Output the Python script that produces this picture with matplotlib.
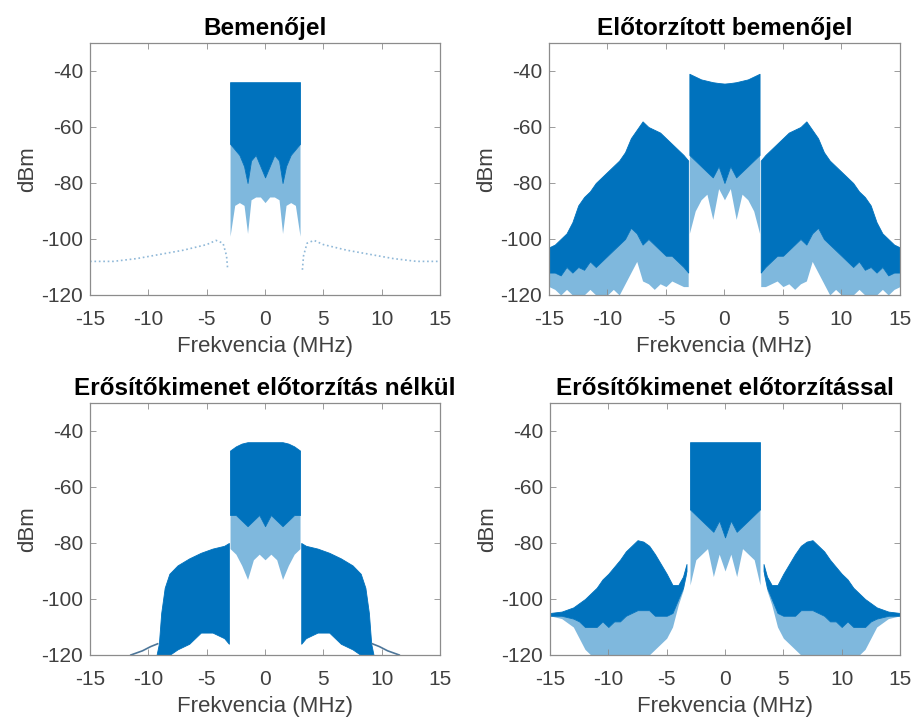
import matplotlib
matplotlib.use("Agg")
import matplotlib.pyplot as plt

plt.rcParams['font.family'] = ['Liberation Sans', 'DejaVu Sans']
plt.rcParams['axes.unicode_minus'] = False

BLUE = '#0072BD'

titles = ["Bemenőjel", "Előtorzított bemenőjel",
          "Erősítőkimenet előtorzítás nélkül", "Erősítőkimenet előtorzítással"]
x_ticks = [-15, -10, -5, 0, 5, 10, 15]
y_ticks = [-120, -100, -80, -60, -40]

# --- panel 1: input signal ---
p1_band_x = [-3.0, -2.6, -2.2, -1.8, -1.5, -1.2, -0.8, -0.4, 0.0, 0.4, 0.8, 1.2, 1.5, 1.8, 2.2, 2.6, 3.0]
p1_band_top = [-44, -44, -44, -44, -44, -44, -44, -44, -44, -44, -44, -44, -44, -44, -44, -44, -44]
p1_band_dense = [-66, -68, -70, -74, -80, -72, -70, -74, -78, -74, -70, -72, -80, -74, -70, -68, -66]
p1_band_light = [-99, -88, -87, -88, -98, -86, -85, -85, -87, -85, -85, -86, -98, -88, -87, -88, -99]
p1_floor_lx = [-15, -13, -11, -9, -7, -5, -4.2, -3.6, -3.3, -3.2]
p1_floor_ly = [-108, -108, -107, -105.5, -104, -102, -100.5, -101.5, -106, -111]
p1_floor_rx = [3.2, 3.3, 3.6, 4.2, 5, 7, 9, 11, 13, 15]
p1_floor_ry = [-111, -106, -101.5, -100.5, -102, -104, -105.5, -107, -108, -108]

# --- panel 2: predistorted input ---
p2_band_x = [-3.0, -2.5, -2.0, -1.5, -1.0, -0.5, 0.0, 0.5, 1.0, 1.5, 2.0, 2.5, 3.0]
p2_band_top = [-41, -42, -43, -43.5, -44, -44.3, -44.5, -44.3, -44, -43.5, -43, -42, -41]
p2_band_dense = [-70, -72, -74, -76, -78, -74, -80, -74, -78, -76, -74, -72, -70]
p2_band_light = [-98, -90, -86, -84, -93, -82, -86, -82, -93, -84, -86, -90, -98]
p2_left_x = [-15, -14.5, -14, -13.5, -13, -12.5, -12, -11.5, -11, -10.5, -10, -9.5, -9,
             -8.5, -8, -7.5, -7, -6.5, -6, -5.5, -5, -4.5, -4, -3.5, -3.1]
p2_left_top = [-103, -102, -100, -98, -94, -88, -85, -83, -80, -78, -76, -74, -72,
               -69, -64, -61, -58, -60, -61, -62, -64, -66, -68, -70, -72]
p2_left_dense = [-112, -112, -113, -110, -112, -110, -111, -108, -110, -108, -106, -104, -102,
                 -100, -96, -98, -102, -100, -102, -104, -106, -106, -108, -110, -112]
p2_left_light = [-117, -118, -120, -118, -120, -120, -120, -118, -120, -120, -120, -118, -120,
                 -116, -112, -108, -115, -116, -118, -116, -117, -115, -116, -117, -117]
p2_right_x = [3.1, 3.5, 4, 4.5, 5, 5.5, 6, 6.5, 7, 7.5, 8, 8.5, 9,
              9.5, 10, 10.5, 11, 11.5, 12, 12.5, 13, 13.5, 14, 14.5, 15]
p2_right_top = [-72, -70, -68, -66, -64, -62, -61, -60, -58, -61, -64, -69, -72,
                -74, -76, -78, -80, -83, -85, -88, -94, -98, -100, -102, -103]
p2_right_dense = [-112, -110, -108, -106, -106, -104, -102, -100, -102, -98, -96, -100, -102,
                  -104, -106, -108, -110, -108, -111, -110, -112, -110, -113, -112, -112]
p2_right_light = [-117, -117, -116, -115, -117, -116, -118, -116, -115, -108, -112, -116, -120,
                  -118, -120, -120, -120, -118, -120, -120, -120, -118, -120, -118, -117]

# --- panel 3: amplifier output without predistortion ---
p3_band_x = [-3.0, -2.5, -2.0, -1.5, -1.0, -0.5, 0.0, 0.5, 1.0, 1.5, 2.0, 2.5, 3.0]
p3_band_top = [-47, -45.5, -44.5, -44, -44, -44, -44, -44, -44, -44, -44.5, -45.5, -47]
p3_band_dense = [-70, -70, -72, -74, -72, -70, -74, -70, -72, -74, -72, -70, -70]
p3_band_light = [-82, -84, -88, -93, -86, -84, -86, -84, -86, -93, -88, -84, -82]
p3_left_x = [-9.3, -9.1, -8.9, -8.6, -8.2, -7.5, -6.5, -5.5, -4.5, -3.5, -3.1]
p3_left_top = [-120, -116, -105, -96, -91, -88, -85.5, -83.5, -82, -81, -80]
p3_left_dense = [-120, -120, -120, -120, -120, -118, -116, -112, -112, -114, -116]
p3_right_x = [3.1, 3.5, 4.5, 5.5, 6.5, 7.5, 8.2, 8.6, 8.9, 9.1, 9.3]
p3_right_top = [-80, -81, -82, -83.5, -85.5, -88, -91, -96, -105, -116, -120]
p3_right_dense = [-116, -114, -112, -112, -116, -118, -120, -120, -120, -120, -120]
p3_tail_lx = [-11.5, -10.5, -9.8, -9.2]
p3_tail_ly = [-120, -118.5, -117, -116]
p3_tail_rx = [9.2, 9.8, 10.5, 11.5]
p3_tail_ry = [-116, -117, -118.5, -120]

# --- panel 4: amplifier output with predistortion ---
p4_band_x = [-3.0, -2.5, -2.0, -1.5, -1.0, -0.5, 0.0, 0.5, 1.0, 1.5, 2.0, 2.5, 3.0]
p4_band_top = [-44, -44, -44, -44, -44, -44, -44, -44, -44, -44, -44, -44, -44]
p4_band_dense = [-68, -70, -72, -74, -76, -72, -78, -72, -76, -74, -72, -70, -68]
p4_band_light = [-95, -86, -84, -82, -92, -84, -90, -84, -92, -82, -84, -86, -95]
p4_left_x = [-15, -14, -13, -12.5, -12, -11.5, -11, -10.5, -10, -9.5, -9, -8.5, -8,
             -7.5, -7, -6.5, -6, -5.5, -5, -4.5, -4, -3.6, -3.3]
p4_left_top = [-105, -104.5, -103, -101.5, -100, -98, -96, -93, -91, -88.5, -86, -83, -81,
               -79, -79.5, -81, -84, -87.5, -91, -95, -95, -92, -87.5]
p4_left_dense = [-106, -106, -107, -108, -110, -110, -110, -108, -110, -108, -108, -106, -105,
                 -104, -104, -104, -106, -106, -106, -105, -100, -96, -90]
p4_left_light = [-106, -107, -110, -114, -118, -120, -120, -120, -120, -120, -120, -120, -120,
                 -120, -120, -120, -118, -116, -114, -110, -102, -97, -91]
p4_right_x = [3.3, 3.6, 4, 4.5, 5, 5.5, 6, 6.5, 7, 7.5, 8, 8.5, 9,
              9.5, 10, 10.5, 11, 11.5, 12, 12.5, 13, 14, 15]
p4_right_top = [-87.5, -92, -95, -95, -91, -87.5, -84, -81, -79.5, -79, -81, -83, -86,
                -88.5, -91, -93, -96, -98, -100, -101.5, -103, -104.5, -105]
p4_right_dense = [-90, -96, -100, -105, -106, -106, -106, -104, -104, -104, -105, -106, -108,
                  -108, -110, -108, -110, -110, -110, -108, -107, -106, -106]
p4_right_light = [-91, -97, -102, -110, -114, -116, -118, -120, -120, -120, -120, -120, -120,
                  -120, -120, -120, -120, -120, -118, -114, -110, -107, -106]


def spectrum(ax, x, top, dense, light=None):
    ax.fill_between(x, top, dense, color=BLUE, lw=0.6, edgecolor=BLUE)
    if light is not None:
        ax.fill_between(x, dense, light, color=BLUE, alpha=0.5, lw=0)


def style(ax, title):
    ax.set_xlim(-15, 15)
    ax.set_ylim(-120, -30)
    ax.set_xticks(x_ticks)
    ax.set_yticks(y_ticks)
    ax.tick_params(direction='in', top=True, right=True, length=4, width=0.6,
                   labelsize=15, colors='#8c8c8c', labelcolor='#404040')
    ax.tick_params(axis='x', pad=11)
    ax.tick_params(axis='y', pad=5)
    for s in ax.spines.values():
        s.set_color('#8c8c8c')
        s.set_linewidth(0.9)
    ax.set_title(title, fontsize=17.5, fontweight='bold', pad=6)
    ax.set_xlabel("Frekvencia (MHz)", fontsize=16, color='#404040', labelpad=5)
    ax.set_ylabel("dBm", fontsize=16, color='#404040', labelpad=2)


fig = plt.figure(figsize=(9.13, 7.2), dpi=100)
ax1 = fig.add_axes([0.0986, 0.5903, 0.3834, 0.35])
ax2 = fig.add_axes([0.6013, 0.5903, 0.3844, 0.35])
ax3 = fig.add_axes([0.0986, 0.0903, 0.3834, 0.35])
ax4 = fig.add_axes([0.6024, 0.0903, 0.3834, 0.35])

# panel 1
ax1.plot(p1_floor_lx, p1_floor_ly, ls=':', color='#8fb8d8', lw=1.2)
ax1.plot(p1_floor_rx, p1_floor_ry, ls=':', color='#8fb8d8', lw=1.2)
spectrum(ax1, p1_band_x, p1_band_top, p1_band_dense, p1_band_light)

# panel 2
spectrum(ax2, p2_left_x, p2_left_top, p2_left_dense, p2_left_light)
spectrum(ax2, p2_band_x, p2_band_top, p2_band_dense, p2_band_light)
spectrum(ax2, p2_right_x, p2_right_top, p2_right_dense, p2_right_light)

# panel 3
ax3.plot(p3_tail_lx, p3_tail_ly, color='#4d7699', lw=1.2)
ax3.plot(p3_tail_rx, p3_tail_ry, color='#4d7699', lw=1.2)
spectrum(ax3, p3_left_x, p3_left_top, p3_left_dense)
spectrum(ax3, p3_band_x, p3_band_top, p3_band_dense, p3_band_light)
spectrum(ax3, p3_right_x, p3_right_top, p3_right_dense)

# panel 4
spectrum(ax4, p4_left_x, p4_left_top, p4_left_dense, p4_left_light)
spectrum(ax4, p4_band_x, p4_band_top, p4_band_dense, p4_band_light)
spectrum(ax4, p4_right_x, p4_right_top, p4_right_dense, p4_right_light)

for ax, t in zip([ax1, ax2, ax3, ax4], titles):
    style(ax, t)

fig.savefig("out.png", dpi=100)
